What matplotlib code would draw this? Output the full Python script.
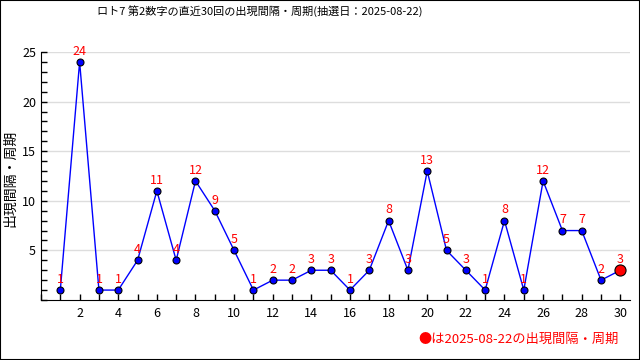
import numpy as np
import matplotlib
matplotlib.use('Agg')
import matplotlib.pyplot as plt
from matplotlib.ticker import MultipleLocator

plt.rcParams['font.family'] = ['Noto Sans CJK JP', 'DejaVu Sans']

# Data
draws = list(range(1, 31))
gaps = [1, 24, 1, 1, 4, 11, 4, 12, 9, 5, 1, 2, 2, 3, 3,
        1, 3, 8, 3, 13, 5, 3, 1, 8, 1, 12, 7, 7, 2, 3]
title = 'ロト7 第2数字の直近30回の出現間隔・周期(抽選日：2025-08-22)'
ylabel = '出現間隔・周期'
note = '●は2025-08-22の出現間隔・周期'

fig = plt.figure(figsize=(6.4, 3.6), dpi=100)
ax = fig.add_axes([41/640, 60/360, 589/640, 248/360])

ax.plot(draws, gaps, color='#0000ff', lw=1, marker='o', ms=5,
        mfc='#0000ff', mec='black', mew=0.8, zorder=3)
ax.plot(draws[-1], gaps[-1], 'o', ms=8, mfc='red', mec='black', mew=0.8, zorder=4)

for x, y in zip(draws, gaps):
    ax.annotate(str(y), (x, y), xytext=(0, 3), textcoords='offset points',
                ha='center', va='bottom', color='red', fontsize=9)

ax.set_xlim(0, 30.5)
ax.set_ylim(0, 25)
ax.set_xticks(range(2, 31, 2))
ax.xaxis.set_minor_locator(MultipleLocator(1))
ax.set_yticks([5, 10, 15, 20, 25])
ax.yaxis.set_minor_locator(MultipleLocator(1))
ax.tick_params(which='both', direction='in', length=4, width=1, labelsize=9)
ax.tick_params(axis='x', pad=5)
ax.grid(axis='y', which='major', color='#dddddd', lw=1)
ax.set_axisbelow(True)
for s in ['top', 'right']:
    ax.spines[s].set_visible(False)

fig.text(10/640, 1 - 178/360, ylabel, rotation=90, ha='center', va='center', fontsize=10)
fig.text(260/640, 1 - 11/360, title, ha='center', va='center', fontsize=8)
fig.text(619/640, 1 - 339/360, note, ha='right', va='center', fontsize=9.5, color='red')

# frame around the whole picture
fig.patches.append(plt.Rectangle((0, 0), 1, 1, transform=fig.transFigure,
                                 fill=False, ec='black', lw=1.5))

fig.savefig('out.png', dpi=100)
